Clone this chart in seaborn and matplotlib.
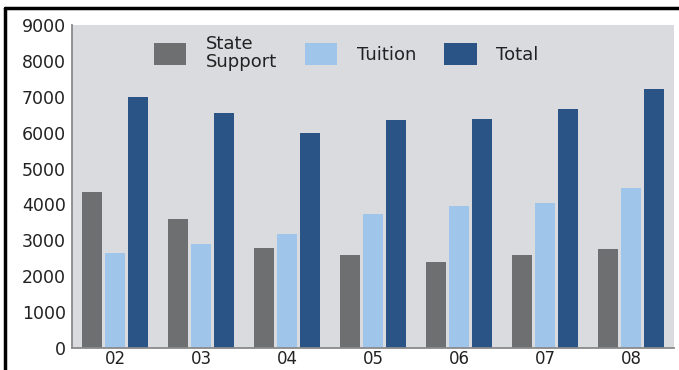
import matplotlib
matplotlib.use("Agg")
import matplotlib.pyplot as plt
from matplotlib.lines import Line2D
from matplotlib.ticker import MultipleLocator
import numpy as np
import pandas as pd
import seaborn as sns

# ─── Data ────────────────────────────────────────────────────────────────────
YEARS   = ["02", "03", "04", "05", "06", "07", "08"]
STATE   = [4350, 3600, 2800, 2600, 2400, 2580, 2750]
TUITION = [2650, 2900, 3170, 3720, 3950, 4050, 4450]
TOTAL   = [7000, 6550, 5980, 6350, 6370, 6650, 7230]
SERIES  = ["State\nSupport", "Tuition", "Total"]
YTICKS  = list(range(0, 9001, 1000))

# ─── Palette ─────────────────────────────────────────────────────────────────
GREY_BAR = "#6d6f71"
LIGHT    = "#9fc5ea"
DARK     = "#2a5486"
PANEL    = "#d9dbde"
AXIS     = "#8a8a8a"
TEXT     = "#222222"

df = pd.DataFrame({
    "year":   YEARS * 3,
    "series": np.repeat(SERIES, len(YEARS)),
    "value":  STATE + TUITION + TOTAL,
})

sns.set_theme(style="white")
plt.rcParams["font.family"] = ["DejaVu Sans"]

fig = plt.figure(figsize=(6.79, 3.70), dpi=100)
ax = fig.add_axes([72 / 679, 1 - 348 / 370, 602 / 679, 323 / 370])
ax.set_facecolor(PANEL)

sns.barplot(
    data=df, x="year", y="value", hue="series",
    hue_order=SERIES, order=YEARS,
    palette=[GREY_BAR, LIGHT, DARK],
    width=0.8, gap=0.12, saturation=1, linewidth=0, ax=ax,
)

ax.set_xlim(-0.5, 6.5)
ax.set_ylim(0, 9000)
ax.set_yticks(YTICKS)
ax.set_xlabel("")
ax.set_ylabel("")
ax.set_axisbelow(True)

for side in ["top", "right"]:
    ax.spines[side].set_visible(False)
for side in ["left", "bottom"]:
    ax.spines[side].set_color(AXIS)
    ax.spines[side].set_linewidth(1.3)

# x: labels under groups, small inward ticks between groups
ax.xaxis.set_minor_locator(MultipleLocator(1, offset=0.5))
ax.tick_params(axis="x", which="major", length=0, pad=1.5,
               labelsize=12, labelcolor=TEXT)
ax.tick_params(axis="x", which="minor", direction="in", length=4,
               color=AXIS, width=1)

# y: long inward ticks plus a short stub outside the spine
ax.yaxis.remove_overlapping_locs = False
ax.yaxis.set_minor_locator(MultipleLocator(1000))
ax.tick_params(axis="y", which="major", direction="in", length=11,
               color=AXIS, width=1, pad=4.3, labelsize=12.5, labelcolor=TEXT)
ax.tick_params(axis="y", which="minor", direction="out", length=3.5,
               color=AXIS, width=1)

leg = ax.legend(
    loc="upper left", bbox_to_anchor=(0.136, 0.969), ncol=3,
    frameon=False, fontsize=13, borderpad=0, borderaxespad=0,
    handlelength=1.78, handleheight=1.5, handletextpad=1.1,
    columnspacing=1.55, labelspacing=0, labelcolor=TEXT,
)
for t in leg.get_texts():
    t.set_linespacing(1.0)

# outer frame lines (top and left) as in the scan
fig.add_artist(Line2D([5 / 679, 1], [1 - 7.5 / 370] * 2,
                      transform=fig.transFigure, color="black", lw=2.5))
fig.add_artist(Line2D([5 / 679] * 2, [0, 1 - 7.5 / 370],
                      transform=fig.transFigure, color="black", lw=2.5))

fig.savefig("out.png", dpi=100, facecolor="white")
